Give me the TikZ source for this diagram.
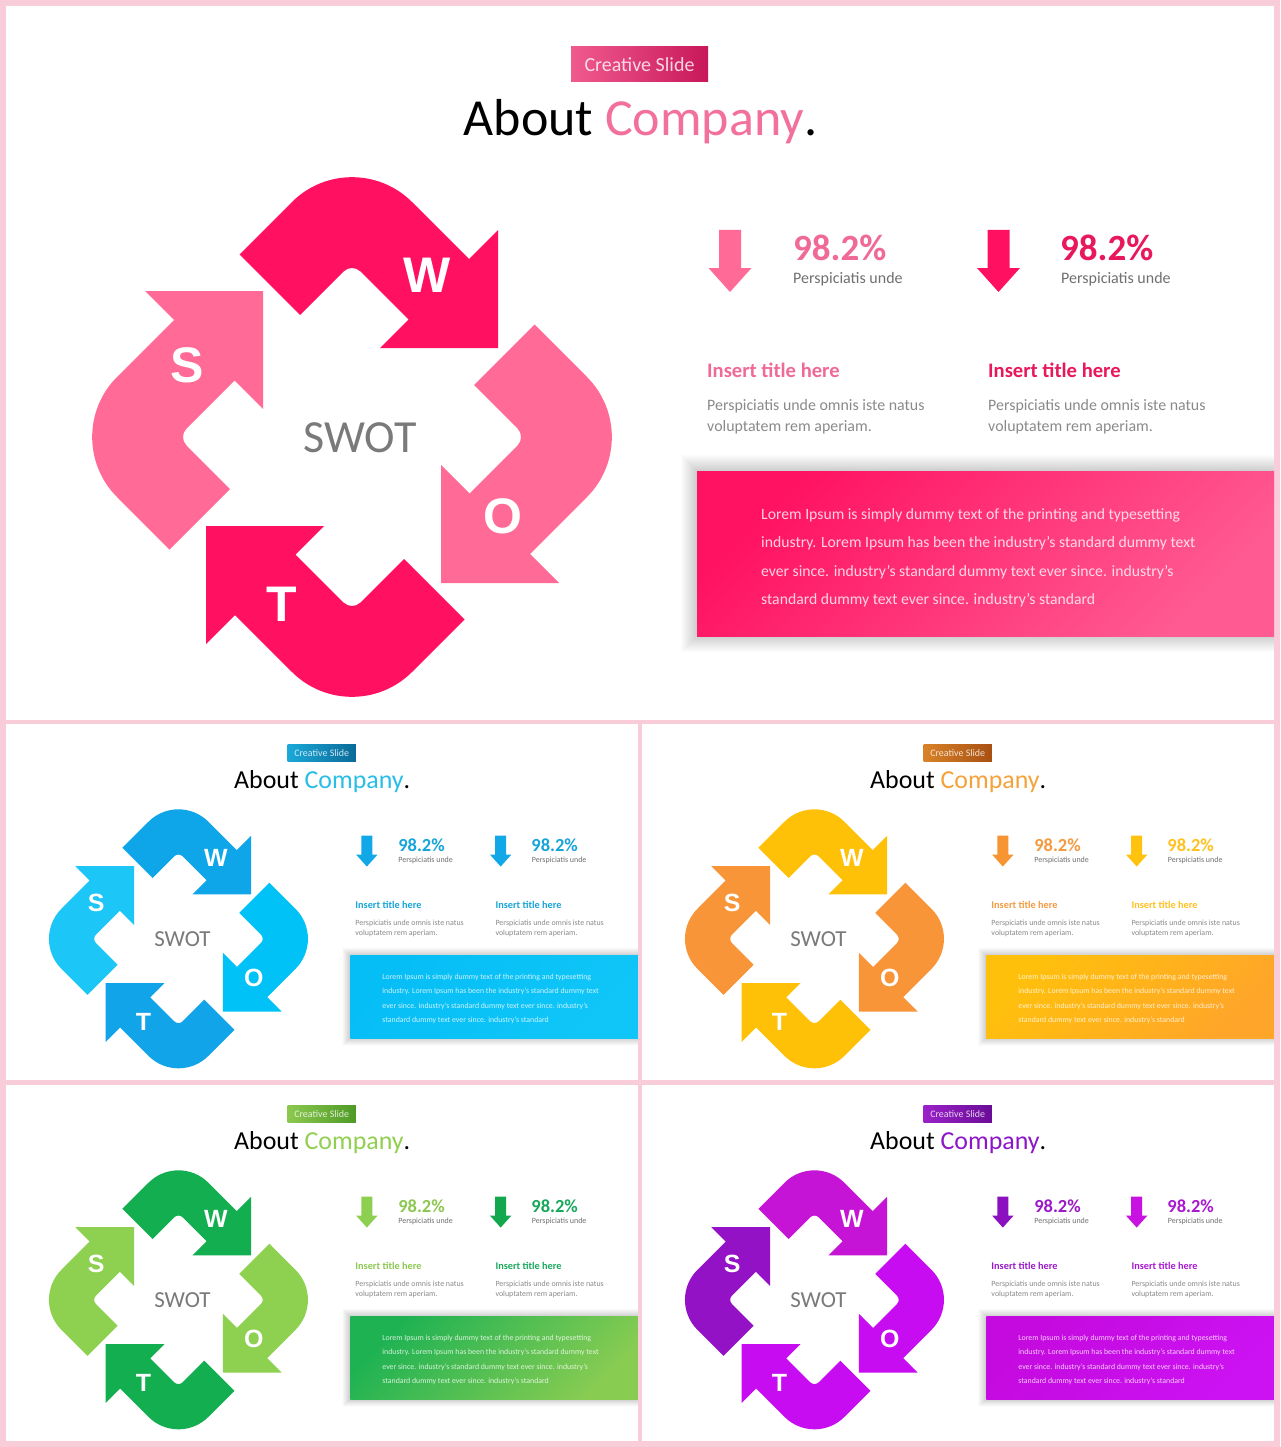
\documentclass[tikz,border=0pt]{standalone}
\usepackage{fontspec}
\setmainfont{Carlito}
\newfontfamily\lettfont{Liberation Sans}

\definecolor{bgpink}{HTML}{F8CCD8}
\definecolor{swotgray}{HTML}{7A7A7A}
\definecolor{subgray}{HTML}{707070}
\definecolor{paragray}{HTML}{8A8A8A}
% pink
\definecolor{pkS}{HTML}{FF6B96}\definecolor{pkW}{HTML}{FF1060}\definecolor{pkO}{HTML}{FF6B96}\definecolor{pkT}{HTML}{FF1060}
\definecolor{pkCo}{HTML}{F2709C}\definecolor{pkL}{HTML}{FF6B96}\definecolor{pkR}{HTML}{FF1060}
\definecolor{pkLt}{HTML}{F06A98}\definecolor{pkRt}{HTML}{E8185C}
\definecolor{pkTagA}{HTML}{F05A8E}\definecolor{pkTagB}{HTML}{C8185A}
\definecolor{pkBoxA}{HTML}{FF1262}\definecolor{pkBoxB}{HTML}{FF5A92}
% blue
\definecolor{blS}{HTML}{1CC6F6}\definecolor{blW}{HTML}{0FA6E9}\definecolor{blO}{HTML}{00C2F6}\definecolor{blT}{HTML}{12A4E8}
\definecolor{blCo}{HTML}{2ABDE6}\definecolor{blL}{HTML}{12A8E8}\definecolor{blR}{HTML}{12A8E8}
\definecolor{blLt}{HTML}{17A4D8}\definecolor{blRt}{HTML}{17A4D8}
\definecolor{blTagA}{HTML}{1AA8D8}\definecolor{blTagB}{HTML}{0A6A98}
\definecolor{blBoxA}{HTML}{06BEF6}\definecolor{blBoxB}{HTML}{10C6F8}
% orange
\definecolor{orS}{HTML}{F89538}\definecolor{orW}{HTML}{FFC107}\definecolor{orO}{HTML}{F89538}\definecolor{orT}{HTML}{FFC107}
\definecolor{orCo}{HTML}{F5A23A}\definecolor{orL}{HTML}{F79532}\definecolor{orR}{HTML}{FFC20E}
\definecolor{orLt}{HTML}{F39A40}\definecolor{orRt}{HTML}{FFC11E}
\definecolor{orTagA}{HTML}{D88228}\definecolor{orTagB}{HTML}{A85012}
\definecolor{orBoxA}{HTML}{FFC00C}\definecolor{orBoxB}{HTML}{FFA52A}
% green
\definecolor{grS}{HTML}{8ED150}\definecolor{grW}{HTML}{12AE50}\definecolor{grO}{HTML}{8ED150}\definecolor{grT}{HTML}{12AE50}
\definecolor{grCo}{HTML}{92CF50}\definecolor{grL}{HTML}{8DCF50}\definecolor{grR}{HTML}{14A84E}
\definecolor{grLt}{HTML}{8CC850}\definecolor{grRt}{HTML}{18A85C}
\definecolor{grTagA}{HTML}{8CC84E}\definecolor{grTagB}{HTML}{4E9A26}
\definecolor{grBoxA}{HTML}{1EB253}\definecolor{grBoxB}{HTML}{88CC52}
% purple
\definecolor{puS}{HTML}{9412C6}\definecolor{puW}{HTML}{C614D6}\definecolor{puO}{HTML}{C80CF2}\definecolor{puT}{HTML}{C80CF2}
\definecolor{puCo}{HTML}{8C16C8}\definecolor{puL}{HTML}{8A10C0}\definecolor{puR}{HTML}{C812E2}
\definecolor{puLt}{HTML}{9A18C8}\definecolor{puRt}{HTML}{A818D0}
\definecolor{puTagA}{HTML}{9A22C8}\definecolor{puTagB}{HTML}{6A0C98}
\definecolor{puBoxA}{HTML}{C40ADE}\definecolor{puBoxB}{HTML}{CC12F2}

\tikzset{
  txt/.style={inner sep=0pt, anchor=base west},
  lett/.style={text=white, inner sep=0pt, font=\lettfont\bfseries\fontsize{50}{50}\selectfont},
}

\newcommand\swotarrow[1]{%
  \fill[#1] (-112.5,-182.5) -- (-60,-235)
    .. controls (-26.9,-268.1) and (26.9,-268.1) .. (60,-235)
    -- (117,-178) -- (146,-207) -- (146,-89) -- (28,-89) -- (56.5,-117.5)
    -- (8.5,-165.5) .. controls (3.8,-170.2) and (-3.8,-170.2) .. (-8.5,-165.5)
    -- (-52,-122) -- cycle;}

\newcommand\downarr[2]{%
  \fill[#1] (#2-11,224) -- (#2+11,224) -- (#2+11,262) -- (#2+21.5,262) -- (#2,286)
    -- (#2-21.5,262) -- (#2-11,262) -- cycle;}

\newcommand\slide[4]{%
\begin{scope}[shift={(#2,#3)},scale=#4,transform shape]
  \fill[white] (0,0) rectangle (1268,714);
  \node[minimum width=137, minimum height=35, inner sep=0pt, left color=#1TagA, right color=#1TagB,
        text=white, text opacity=0.8, font=\fontsize{20}{24}\selectfont] (#1-tag) at (633.5,58.5) {Creative Slide};
  \node[inner sep=0pt, anchor=base, font=\fontsize{52}{60}\selectfont] (#1-title) at (634.5,130)
        {About \textcolor{#1Co}{Company}.};
  \begin{scope}[shift={(346,431)}]
    \swotarrow{#1W}
    \swotarrow{#1O, rotate=-90}
    \swotarrow{#1T, rotate=180}
    \swotarrow{#1S, rotate=90}
  \end{scope}
  \node[inner sep=0pt, text=swotgray, font=\fontsize{46}{50}\selectfont] (#1-swot) at (354,432) {SWOT};
  \node[lett] (#1-W) at (421,269) {W};
  \node[lett] (#1-S) at (181,359) {S};
  \node[lett] (#1-O) at (497,510) {O};
  \node[lett] (#1-T) at (276,598) {T};
  \downarr{#1L}{724}
  \downarr{#1R}{992.5}
  \node[txt, text=#1Lt, font=\bfseries\fontsize{37}{40}\selectfont] (#1-vl) at (787,255) {98.2\%};
  \node[txt, text=#1Rt, font=\bfseries\fontsize{37}{40}\selectfont] (#1-vr) at (1054,255) {98.2\%};
  \node[txt, text=subgray, font=\fontsize{16}{18}\selectfont] (#1-sl) at (787,277) {Perspiciatis unde};
  \node[txt, text=subgray, font=\fontsize{16}{18}\selectfont] (#1-sr) at (1055,277) {Perspiciatis unde};
  \node[txt, text=#1Lt, font=\bfseries\fontsize{20.6}{22}\selectfont] (#1-il) at (701,371) {Insert title here};
  \node[txt, text=#1Rt, font=\bfseries\fontsize{20.6}{22}\selectfont] (#1-ir) at (982,371) {Insert title here};
  \node[txt, text=paragray, font=\fontsize{15.9}{18}\selectfont] (#1-pla) at (701,404) {Perspiciatis unde omnis iste natus};
  \node[txt, text=paragray, font=\fontsize{15.9}{18}\selectfont] (#1-plb) at (701,425) {voluptatem rem aperiam.};
  \node[txt, text=paragray, font=\fontsize{15.9}{18}\selectfont] (#1-pra) at (982,404) {Perspiciatis unde omnis iste natus};
  \node[txt, text=paragray, font=\fontsize{15.9}{18}\selectfont] (#1-prb) at (982,425) {voluptatem rem aperiam.};
  \foreach \i in {1,...,16}{\fill[black, opacity=0.011] (691-\i,465-\i) rectangle (1268,630+\i);}
  \fill[top color=#1BoxA, bottom color=#1BoxB, shading angle=45] (691,465) rectangle (1268,630);
  \node[txt, text=white, text opacity=0.8, font=\fontsize{15.7}{18}\selectfont] (#1-b1) at (755,513)
     {Lorem Ipsum is simply dummy text of the printing and typesetting};
  \node[txt, text=white, text opacity=0.8, font=\fontsize{15.7}{18}\selectfont] (#1-b2) at (755,541)
     {industry. Lorem Ipsum has been the industry's standard dummy text};
  \node[txt, text=white, text opacity=0.8, font=\fontsize{15.7}{18}\selectfont] (#1-b3) at (755,570)
     {ever since. industry's standard dummy text ever since. industry's};
  \node[txt, text=white, text opacity=0.8, font=\fontsize{15.7}{18}\selectfont] (#1-b4) at (755,598)
     {standard dummy text ever since. industry's standard};
\end{scope}}

\begin{document}
\begin{tikzpicture}[x=1pt,y=-1pt]
  \useasboundingbox (0,0) rectangle (1280,1447);
  \fill[bgpink] (0,0) rectangle (1280,1447);
  \slide{pk}{6}{6}{1}
  \slide{bl}{6}{724}{0.4984}
  \slide{or}{642}{724}{0.4984}
  \slide{gr}{6}{1085}{0.4984}
  \slide{pu}{642}{1085}{0.4984}
\end{tikzpicture}
\end{document}
